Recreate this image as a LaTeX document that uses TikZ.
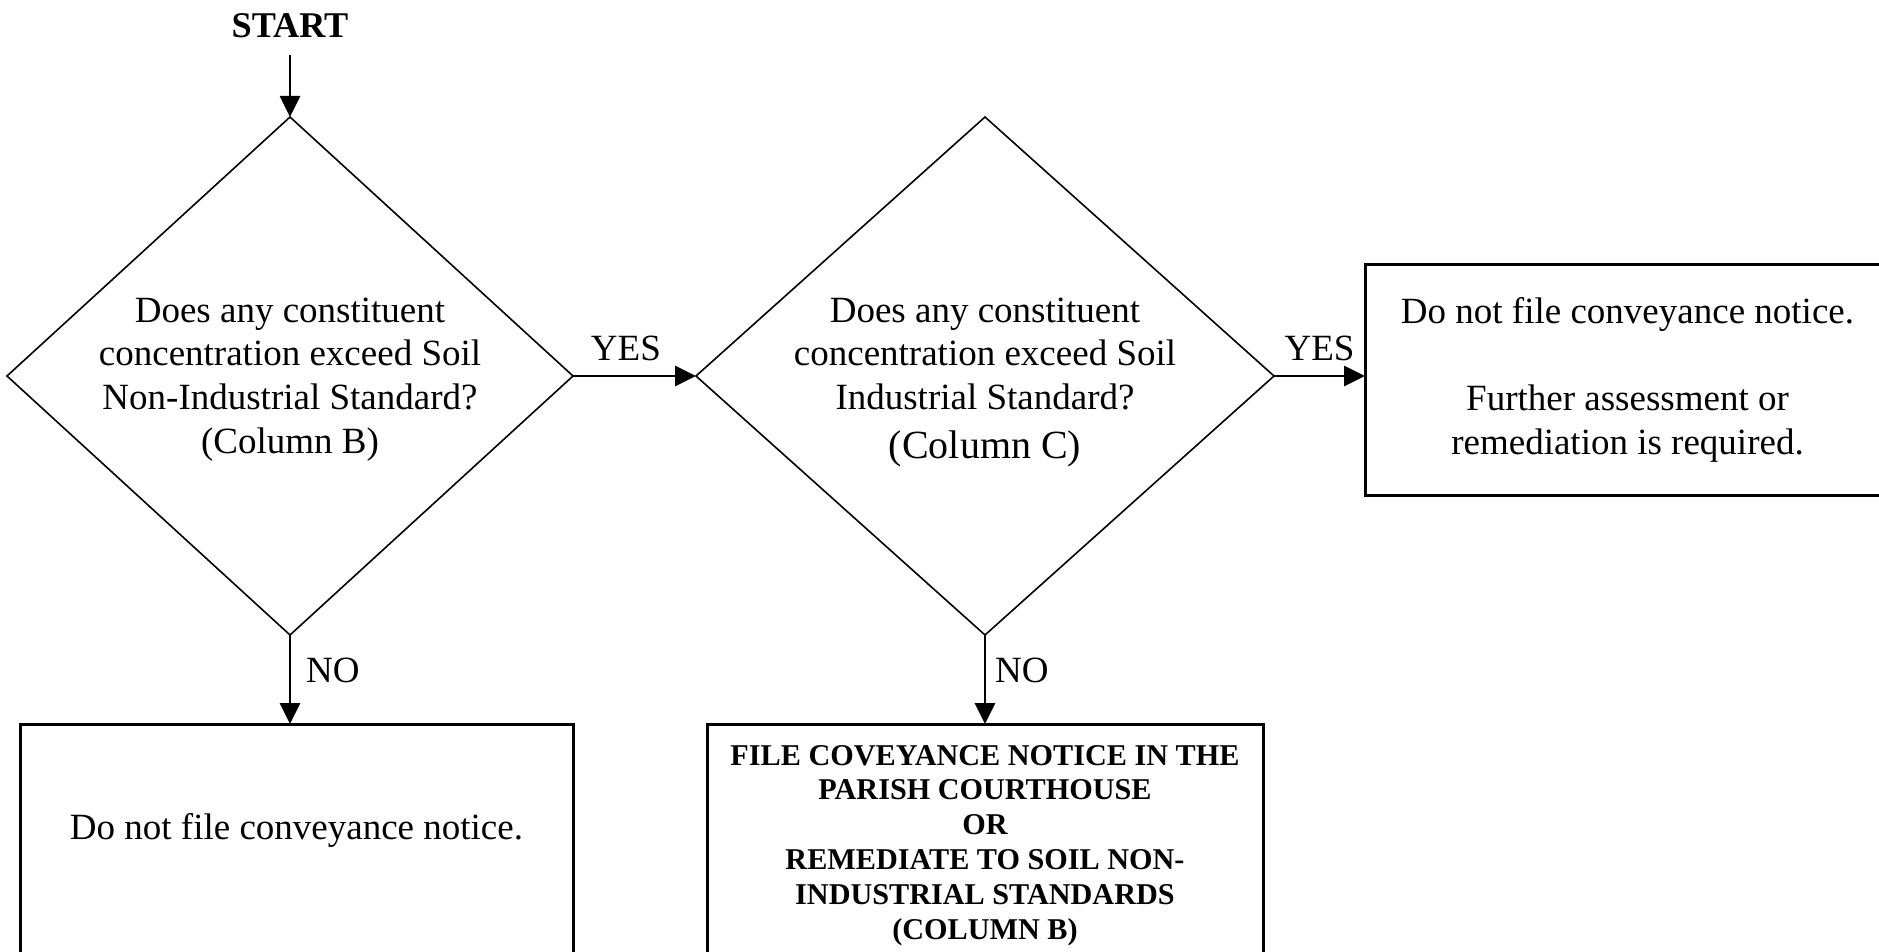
\documentclass[tikz,border=0pt]{standalone}
\usepackage{fontspec}
\setmainfont{Liberation Serif}
\usetikzlibrary{arrows.meta,positioning,shapes.geometric}

\begin{document}
\begin{tikzpicture}[
  font=\fontsize{18.5}{21.8}\selectfont,
  decision/.style={diamond, draw=black, line width=0.8pt, inner sep=-4pt, outer sep=0pt, minimum height=259pt, align=center},
  outcome/.style={rectangle, draw=black, line width=1.5pt, outer sep=0pt, align=center},
  flow/.style={-{Triangle[length=10.5pt,width=10pt]}, line width=1.4pt},
  answer/.style={inner sep=7pt}
]
\useasboundingbox (0,0) rectangle (939.5pt,-476pt);

\node[decision, minimum width=283pt, shape aspect=1.093] (soilb) at (145pt,-188pt)
  {\rule{0pt}{15.6pt}Does any constituent\\concentration exceed Soil\\Non-Industrial Standard?\\(Column B)};
\node[decision, right=61.5pt of soilb, minimum width=289pt, shape aspect=1.116] (soilc)
  {\rule{0pt}{18.6pt}Does any constituent\\concentration exceed Soil\\Industrial Standard?\\[2.7pt]{\fontsize{20}{24}\selectfont (Column C)}};
\node[font=\fontsize{18.1}{21.8}\selectfont\bfseries, inner sep=8.5pt, above=31pt of soilb] (start) {START};

\node[outcome, below=44.5pt of soilb, xshift=3.25pt, minimum width=276.5pt, inner ysep=0pt, text height=57.5pt, text depth=70pt] (nofile)
  {Do not file conveyance notice.};
\node[outcome, below=44.5pt of soilc, minimum width=278pt, inner ysep=10.5pt, font=\fontsize{15.1}{17.4}\selectfont\bfseries] (filenotice)
  {FILE COVEYANCE NOTICE IN THE\\PARISH COURTHOUSE\\OR\\REMEDIATE TO SOIL NON-\\INDUSTRIAL STANDARDS\\(COLUMN B)};
\node[outcome, right=45.5pt of soilc, yshift=-2pt, minimum width=262.5pt, minimum height=115pt] (assess)
  {Do not file conveyance notice.\\[21.75pt]Further assessment or\\remediation is required.};

\draw[flow] (start) -- (soilb);
\draw[flow] (soilb) -- node[above, answer, pos=0.43]{YES} (soilc);
\draw[flow] (soilc.east) -- node[above, answer]{YES} (soilc.east -| assess.west);
\draw[flow] (soilb) -- node[right, pos=0.4, xshift=4pt]{NO} (soilb.south |- nofile.north);
\draw[flow] (soilc) -- node[right, pos=0.4, xshift=1pt]{NO} (filenotice);
\end{tikzpicture}
\end{document}
